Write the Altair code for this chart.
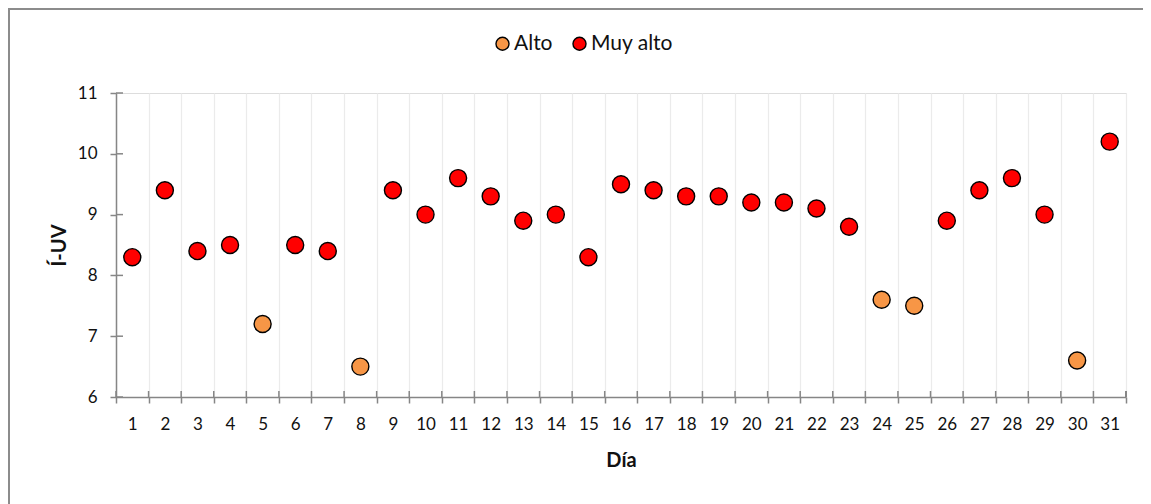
import altair as alt
import pandas as pd

dias = list(range(1, 32))
iuv = [8.3, 9.4, 8.4, 8.5, 7.2, 8.5, 8.4, 6.5, 9.4, 9.0, 9.6, 9.3, 8.9, 9.0, 8.3,
       9.5, 9.4, 9.3, 9.3, 9.2, 9.2, 9.1, 8.8, 7.6, 7.5, 8.9, 9.4, 9.6, 9.0, 6.6, 10.2]
categoria = ["Muy alto", "Muy alto", "Muy alto", "Muy alto", "Alto", "Muy alto", "Muy alto", "Alto",
             "Muy alto", "Muy alto", "Muy alto", "Muy alto", "Muy alto", "Muy alto", "Muy alto",
             "Muy alto", "Muy alto", "Muy alto", "Muy alto", "Muy alto", "Muy alto", "Muy alto",
             "Muy alto", "Alto", "Alto", "Muy alto", "Muy alto", "Muy alto", "Muy alto", "Alto", "Muy alto"]
y_ticks = [6, 7, 8, 9, 10, 11]
niveles = ["Alto", "Muy alto"]
colores = ["#F79646", "#FF0000"]

W, H = 1010, 304
FONT = "Lato"
AXIS_GRAY = "#868686"

df = pd.DataFrame({"dia": dias, "iuv": iuv, "cat": categoria})
df_y = pd.DataFrame({"v": y_ticks})

xscale = alt.Scale(type="band", paddingInner=0, paddingOuter=0, round=False)
yscale = alt.Scale(domain=[6, 11], nice=False, zero=False)

points = alt.Chart(df).mark_circle(size=290, opacity=1, stroke="black", strokeWidth=1.4).encode(
    x=alt.X("dia:O", scale=xscale, sort=dias, axis=alt.Axis(
        title="Día", labelAngle=0, labelAlign="center", labelBaseline="middle",
        tickBand="extent", grid=True,
        gridColor="#EBEBEB", gridWidth=1.2, domainColor=AXIS_GRAY, domainWidth=1.5,
        tickColor=AXIS_GRAY, tickWidth=1.5, tickSize=6, labelPadding=21, labelFont=FONT,
        labelFontSize=17, labelColor="#111111", titleFont=FONT, titleFontSize=20,
        titleFontWeight="bold", titleColor="#111111", titleX=W / 2, titleY=63,
        titleBaseline="middle", titleAlign="center")),
    y=alt.Y("iuv:Q", scale=yscale, axis=alt.Axis(
        title="Í-UV", values=y_ticks, format="d", grid=False, domainColor=AXIS_GRAY,
        domainWidth=1.5, tickColor=AXIS_GRAY, tickWidth=1.5, tickSize=6, labelPadding=13,
        labelFont=FONT, labelFontSize=17, labelColor="#111111", titleFont=FONT,
        titleFontSize=20, titleFontWeight="bold", titleColor="#111111", titleX=-57,
        titleY=H / 2, titleAngle=270, titleBaseline="middle", titleAlign="center")),
    color=alt.Color("cat:N", scale=alt.Scale(domain=niveles, range=colores), legend=alt.Legend(
        title=None, orient="none", direction="horizontal", legendX=376, legendY=-60,
        symbolType="circle", symbolSize=170, symbolStrokeColor="black", symbolStrokeWidth=1.4,
        symbolOpacity=1, labelFont=FONT, labelFontSize=21, labelColor="#111111",
        labelOffset=1, columnPadding=16)),
)

ytick_in = alt.Chart(df_y).mark_rule(color=AXIS_GRAY, strokeWidth=1.5).encode(
    y=alt.Y("v:Q", scale=yscale), x=alt.value(0), x2=alt.value(7))

xtick_in = alt.Chart(df).mark_rule(color=AXIS_GRAY, strokeWidth=1.5).encode(
    x=alt.X("dia:O", scale=xscale, sort=dias, bandPosition=0),
    y=alt.value(H - 6), y2=alt.value(H))

xtick_end = alt.Chart(df_y).mark_rule(color=AXIS_GRAY, strokeWidth=1.5).encode(
    x=alt.value(W), y=alt.value(H - 6), y2=alt.value(H))

border_top = alt.Chart(df_y).mark_rule(color="#8C8C8C", strokeWidth=2).encode(
    x=alt.value(-108), x2=alt.value(W + 17), y=alt.value(-84))
border_left = alt.Chart(df_y).mark_rule(color="#8C8C8C", strokeWidth=2).encode(
    x=alt.value(-107), y=alt.value(-85), y2=alt.value(H + 107))

chart = alt.layer(xtick_in, xtick_end, ytick_in, border_top, border_left, points).properties(
    width=W, height=H,
    autosize=alt.AutoSizeParams(type="none"),
    padding={"left": 108, "top": 85, "right": 17, "bottom": 107},
).configure_view(stroke=None).configure(background="white")

chart.save("out.html", embed_options={"renderer": "svg", "actions": False})
